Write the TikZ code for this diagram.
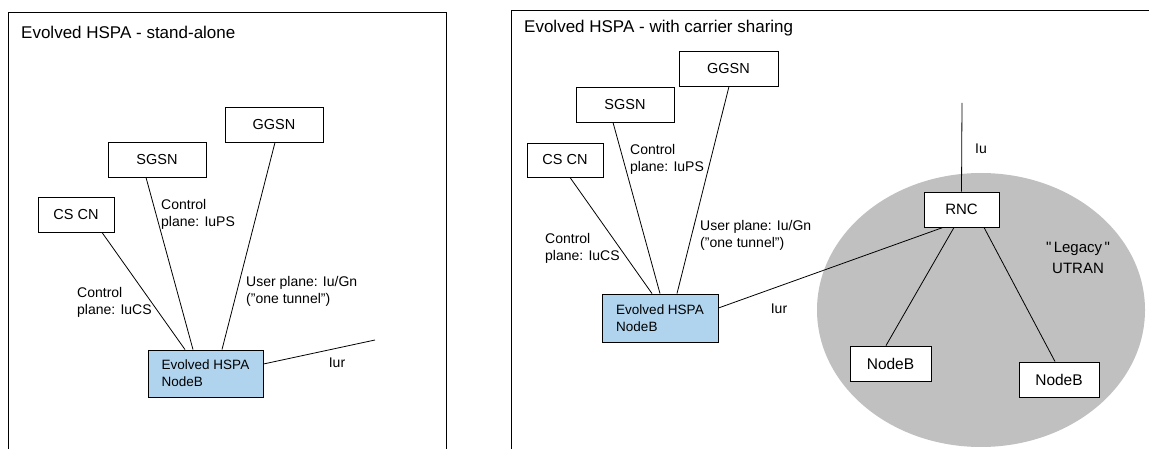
\documentclass[tikz,border=0pt]{standalone}
\usepackage{fontspec}
\setmainfont{Liberation Sans}
\newfontfamily\rawfont{Liberation Sans}
\usetikzlibrary{calc}
\definecolor{ehblue}{RGB}{176,212,238}
\definecolor{utrangray}{RGB}{192,192,192}
\begin{document}
\begin{tikzpicture}[x=1pt,y=-1pt,
  frame/.style={line width=0.9pt},
  conn/.style={line width=0.8pt},
  box/.style={draw,line width=0.9pt,fill=white,inner sep=0pt,font=\fontsize{14.5}{16}\selectfont},
  ehbox/.style={box,fill=ehblue,align=left,font=\fontsize{13.5}{17}\selectfont},
  utbox/.style={box,font=\fontsize{15.5}{18}\selectfont},
  lbl/.style={font=\fontsize{14}{17}\selectfont,align=left,anchor=west,inner sep=0pt},
  ttl/.style={font=\fontsize{17}{19}\selectfont,anchor=west,inner sep=0pt}]
\useasboundingbox (0,0) rectangle (1149,449);

% ---------------- left panel ----------------
\draw[frame] (8,449) -- (8,12) -- (446,12) -- (446,449);
\node[ttl] (t1) at (21,32) {Evolved HSPA - stand-alone};

\node[box,minimum width=76pt,minimum height=35pt] (cscn) at (76,214.5) {CS CN};
\node[box,minimum width=98pt,minimum height=35pt] (sgsn) at (157,159.5) {SGSN};
\node[box,minimum width=98pt,minimum height=35pt] (ggsn) at (274,124.5) {GGSN};
\node[ehbox,minimum width=115pt,minimum height=47pt] (eh) at (205.5,373.5) {Evolved HSPA\\NodeB};
\coordinate (iurend) at (375,340);

\draw[conn] ([xshift=26pt]cscn.south) -- ([xshift=-20.5pt]eh.north);
\draw[conn] ([xshift=-11pt]sgsn.south) -- ([xshift=-12.5pt]eh.north);
\draw[conn] ([xshift=1pt]ggsn.south) -- ([xshift=16.5pt]eh.north);
\draw[conn] ([yshift=9.5pt]eh.east) -- (iurend);

\node[lbl] (l1) at (161,214) {Control\\plane: IuPS};
\node[lbl] (l2) at (246,291) {User plane: Iu/Gn\\(”one tunnel”)};
\node[lbl] (l3) at (77,302.5) {Control\\plane: IuCS};
\node[lbl,anchor=center] (l4) at (337,363) {Iur};

% ---------------- right panel ----------------
\draw[frame] (511,449) -- (511,10) -- (1149,10);
\node[ttl] (t2) at (524,28) {Evolved HSPA - with carrier sharing};

\fill[utrangray] (981,310) ellipse [x radius=164pt, y radius=137pt];

\node[box,minimum width=76pt,minimum height=34pt] (cscn2) at (565,160) {CS CN};
\node[box,minimum width=98pt,minimum height=35pt] (sgsn2) at (625,104.5) {SGSN};
\node[box,minimum width=99pt,minimum height=35pt] (ggsn2) at (728.5,68.5) {GGSN};
\node[ehbox,minimum width=116pt,minimum height=48pt] (eh2) at (660,318) {Evolved HSPA\\NodeB};

\node[box,minimum width=75pt,minimum height=35pt,font=\fontsize{15}{18}\selectfont] (rnc) at (961.5,209.5) {RNC};
\node[utbox,minimum width=81pt,minimum height=35pt] (nb1) at (890.5,363.5) {NodeB};
\node[utbox,minimum width=80pt,minimum height=35pt] (nb2) at (1059,379.5) {NodeB};
\coordinate (iutop) at (962,103);

\draw[conn] ([xshift=5pt]cscn2.south) -- ([xshift=-8pt]eh2.north);
\draw[conn] ([xshift=-12pt]sgsn2.south) -- (eh2.north);
\draw[conn] ([xshift=0.5pt]ggsn2.south) -- ([xshift=17pt]eh2.north);
\draw[conn] ([yshift=10pt]eh2.east) -- ([xshift=-18.5pt]rnc.south);
\draw[conn] (iutop) -- (rnc.north);
\draw[conn] ([xshift=-7.5pt]rnc.south) -- ([xshift=-4.5pt]nb1.north);
\draw[conn] ([xshift=22.5pt]rnc.south) -- ([xshift=-4pt]nb2.north);

\node[lbl] (r1) at (630,159.5) {Control\\plane: IuPS};
\node[lbl] (r2) at (700,235.5) {User plane: Iu/Gn\\(”one tunnel”)};
\node[lbl] (r3) at (545,248) {Control\\plane: IuCS};
\node[lbl,anchor=center] (r4) at (779,309) {Iur};
\node[lbl,anchor=center] (r5) at (981,149) {Iu};
\node[lbl,anchor=center,align=center,font=\rawfont\fontsize{15}{21}\selectfont] (r6) at (1078,257.5) {"\,Legacy\,"\\UTRAN};
\end{tikzpicture}
\end{document}
